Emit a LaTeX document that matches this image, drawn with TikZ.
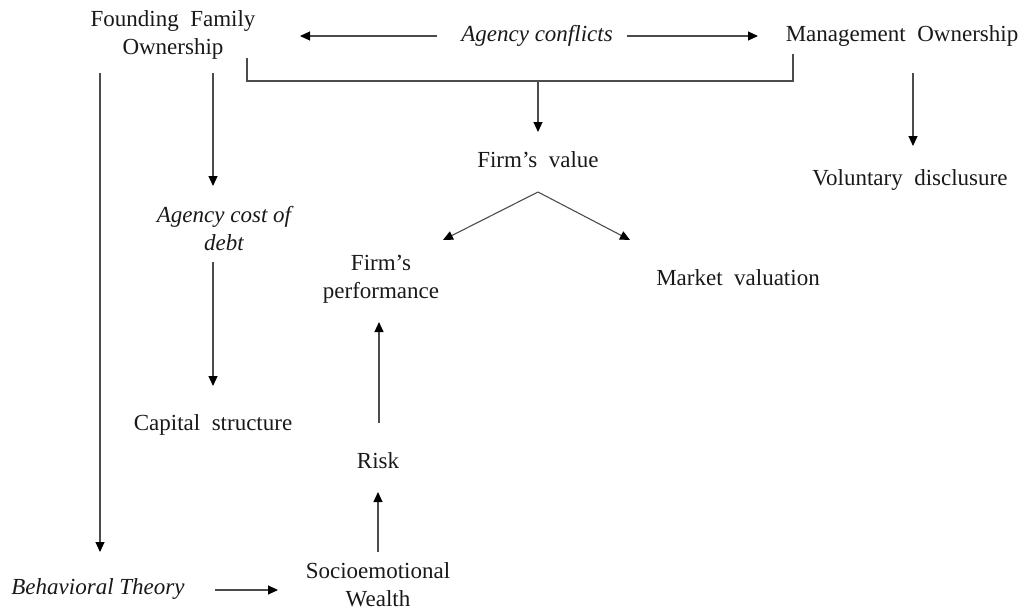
\documentclass[tikz,border=0pt]{standalone}
\usepackage{fontspec}
\setmainfont{Liberation Serif}
\usetikzlibrary{arrows.meta}
\begin{document}
\begin{tikzpicture}[x=1pt,y=-1pt,
  lbl/.style={font=\fontsize{23}{28}\selectfont, align=center, inner sep=0pt, text=black!90},
  ilbl/.style={lbl, font=\fontsize{23}{28}\selectfont\itshape},
  conn/.style={draw=black!70, line width=1.1pt},
  arr/.style={conn, -{Triangle[length=10pt,width=9pt,fill=black,color=black]}}]
\useasboundingbox (0,0) rectangle (1021,611);
% nodes
\node[lbl] (ff) at (173,35) {Founding\ \ Family\\Ownership};
\node[ilbl] (ac) at (537,36) {Agency conflicts};
\node[lbl] (mo) at (902,36) {Management\ \ Ownership};
\node[lbl] (fv) at (538,160) {Firm’s\ \ value};
\node[lbl] (vd) at (910,180) {Voluntary\ \ disclusure};
\node[ilbl] (acd) at (224,229) {Agency cost of\\debt};
\node[lbl] (fp) at (381,279) {Firm’s\\performance};
\node[lbl] (mv) at (738,278) {Market\ \ valuation};
\node[lbl] (cs) at (213,425) {Capital\ \ structure};
\node[lbl] (rk) at (378,461) {Risk};
\node[lbl] (sw) at (378,585) {Socioemotional\\Wealth};
\node[ilbl] (bt) at (98,589) {Behavioral Theory};
% helper coordinates
\coordinate (acL) at (437,36);
\coordinate (acR) at (627,36);
\coordinate (ffT) at (300,36);
\coordinate (moT) at (758,36);
\coordinate (brL) at (247,58);
\coordinate (brR) at (793,54);
\coordinate (brM) at (538,81);
\coordinate (fvT) at (538,132);
\coordinate (fvB) at (538,192);
\coordinate (fpT) at (443,240);
\coordinate (mvT) at (630,240);
\coordinate (moB) at (913,73);
\coordinate (vdT) at (913,146);
\coordinate (ffB) at (213,73);
\coordinate (acdT) at (213,186);
\coordinate (ffL) at (100,73);
\coordinate (btT) at (100,552);
\coordinate (acdB) at (213,262);
\coordinate (csT) at (213,386);
\coordinate (rkT) at (379,423);
\coordinate (fpB) at (379,322);
\coordinate (swT) at (378,552);
\coordinate (rkB) at (378,492);
\coordinate (btR) at (215,590);
\coordinate (swL) at (278,590);
% connectors
\draw[arr] (acL) -- (ffT);
\draw[arr] (acR) -- (moT);
\draw[conn] (brL) |- (brM) -| (brR);
\draw[arr] (brM) -- (fvT);
\draw[arr] (fvB) -- (fpT);
\draw[arr] (fvB) -- (mvT);
\draw[arr] (moB) -- (vdT);
\draw[arr] (ffB) -- (acdT);
\draw[arr] (ffL) -- (btT);
\draw[arr] (acdB) -- (csT);
\draw[arr] (rkT) -- (fpB);
\draw[arr] (swT) -- (rkB);
\draw[arr] (btR) -- (swL);
\end{tikzpicture}
\end{document}
